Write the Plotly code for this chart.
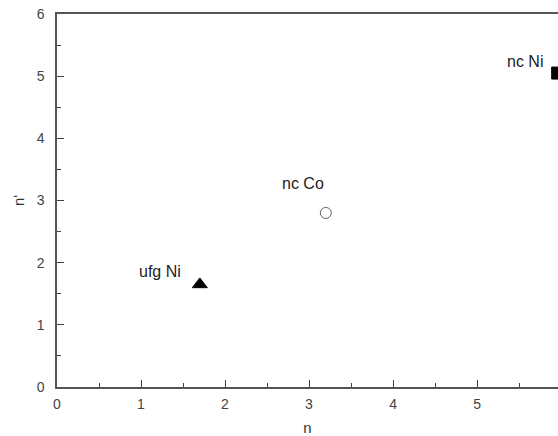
import plotly.graph_objects as go

labels = ["ufg Ni", "nc Co", "nc Ni"]
n_vals = [1.70, 3.20, 5.96]
nprime_vals = [1.65, 2.80, 5.05]
symbols = ["triangle-up", "circle-open", "square"]
sizes = [13, 11, 12]
colors = ["black", "#666666", "black"]

# label anchor positions (data units)
label_x = [1.23, 2.93, 5.57]
label_y = [1.85, 3.27, 5.24]

x_ticks = [0, 1, 2, 3, 4, 5]
y_ticks = [0, 1, 2, 3, 4, 5, 6]
X_MAX = 5.964

FONT = "Liberation Sans, Arial"

fig = go.Figure()
for i in range(3):
    fig.add_trace(go.Scatter(
        x=[n_vals[i]], y=[nprime_vals[i]], mode="markers",
        marker=dict(symbol=symbols[i], size=sizes[i], color=colors[i],
                    line=dict(color=colors[i], width=1)),
        cliponaxis=False, showlegend=False))
    fig.add_annotation(x=label_x[i], y=label_y[i], text=labels[i], showarrow=False,
                       font=dict(family=FONT, size=16, color="#222222"))

# partially visible tick label "6" at the right edge (cut off in the reference too)
fig.add_annotation(xref="paper", x=1.0, xanchor="left", xshift=-2, y=0, text="6",
                   showarrow=False, yshift=-13,
                   font=dict(family=FONT, size=14, color="#444444"))

axis_common = dict(showgrid=False, zeroline=False, showline=True, linecolor="#555555",
                   linewidth=1.5, ticks="inside", ticklen=7, tickwidth=1.2, tickcolor="#444444",
                   tickfont=dict(family=FONT, size=14, color="#444444"), automargin=False,
                   minor=dict(ticks="inside", ticklen=4, tickwidth=1, tickcolor="#444444", dtick=0.5))

fig.update_xaxes(range=[0, X_MAX], tickvals=x_ticks, mirror=True,
                 title=dict(text="n", font=dict(family=FONT, size=15, color="#333333"), standoff=19),
                 ticklabelstandoff=3, **axis_common)
fig.update_yaxes(range=[0, 6], tickvals=y_ticks, mirror=False,
                 title=dict(text="n'", font=dict(family=FONT, size=15, color="#333333"), standoff=8),
                 ticklabelstandoff=8, **axis_common)

fig.update_layout(width=558, height=436, margin=dict(l=57, r=0, t=14, b=49),
                  plot_bgcolor="white", paper_bgcolor="white")

fig.write_html("out.html")
